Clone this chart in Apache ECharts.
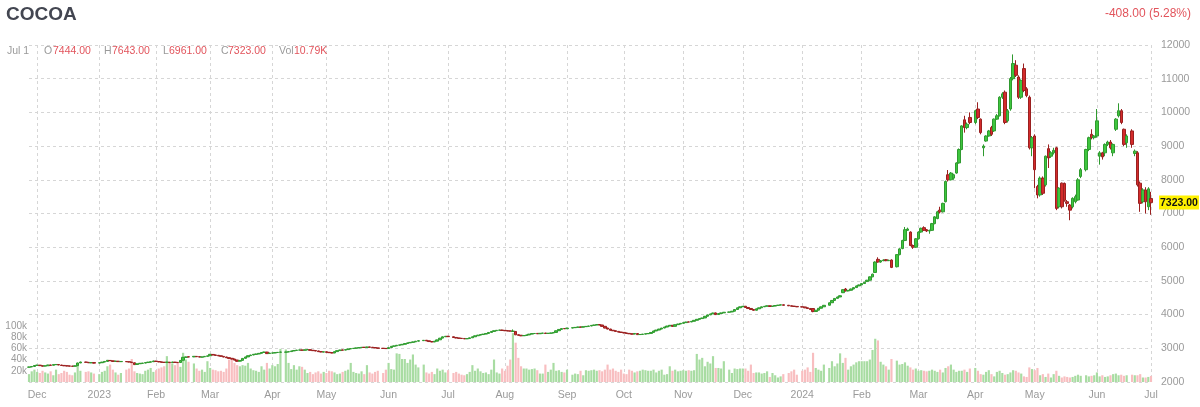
<!DOCTYPE html>
<html><head><meta charset="utf-8">
<script src="https://cdn.jsdelivr.net/npm/echarts@6/dist/echarts.min.js"></script>
<style>html,body{margin:0;padding:0;background:#fff}#c{width:1200px;height:407px}</style>
</head><body><div id="c"></div>
<script>
// Trading-day calendar (weekdays); holidays carry null values in the data arrays
const startDate = '2022-11-28';
const endDate = '2024-07-01';
const monthNames = ['Jan','Feb','Mar','Apr','May','Jun','Jul','Aug','Sep','Oct','Nov','Dec'];
const title = 'COCOA';
const lastDateLabel = 'Jul 1';

const openP = [
2440,2448,2462,2492,2500, 2483,2472,2482,2503,2497, 2514,2518,2503,2492,2482, 2477,2472,2467,2485,2566,
null,2592,2583,2568,2577, null,2562,2572,2592,2612, 2640,2628,2612,2618,2603, null,2608,2602,2590,2570,
2520,2542,2553,2562,2577, 2588,2602,2620,2608,2597, 2587,2582,2588,2577,2590, 2582,2578,2645,2730,2748,
null,2745,2760,2752,2738, 2748,2762,2777,2818,2803, 2792,2777,2760,2742,2722, 2702,2682,2652,2618,2642,
2702,2745,2782,2802,2820, 2832,2852,2877,2888,2845, 2858,2862,2874,2882,null, 2885,2892,2902,2922,2937,
2947,2952,2942,2957,2960, 2942,2932,2922,2902,2888, 2897,2882,2872,2862,2902, 2932,2952,2947,2962,2982,
2993,3002,3012,3022,3032, 3027,3040,3032,3022,3012, null,3002,2997,2993,3022, 3061,3072,3092,3102,3120,
3142,3162,3177,3192,3212, null,3227,3239,3222,3202, 3189,3212,3252,3302,3342, 3358,null,3343,3322,3307,
3297,3292,3282,3290,3312, 3342,3372,3392,3408,3422, 3442,3472,3502,3522,3536, 3542,3532,3522,3517,3498,
3500,3402,3388,3372,3382, 3397,3422,3438,3442,3432, 3447,3452,3442,3447,3456, 3472,3522,3562,3586,3582,
null,3602,3612,3622,3634, 3627,3642,3652,3662,3682, 3692,3705,3692,3652,3602, 3572,3536,3522,3502,3482,
3472,3456,3442,3432,3422, 3438,3408,3412,3422,3432, 3442,3472,3515,3542,3572, 3602,3632,3662,3684,3652,
3702,3722,3742,3762,3782, 3782,3802,3832,3862,3882, 3901,3952,3992,4022,4049, 4002,4032,4052,null,4072,
4079,4102,4152,4202,4232, 4248,4212,4182,4152,4129, 4172,4202,4232,4248,4262, 4242,4252,4272,4282,4292,
null,4278,4262,4252,4242, null,4232,4227,4202,4182, 4180,4092,4132,4189,4232, null,4278,4352,4422,4482,
4524,4650,4760,4702,4722, 4762,4802,4852,4882,4922, 4980,5020,5120,5250,5640, 5560,5600,5630,5600,5620,
null,5420,5780,5960,6200, 6500,6450,6050,6000,6250, 6450,6580,6520,6480,6500, 6700,6850,7100,7050,7350,
8150,8000,8050,8200,8500, 8900,9780,9550,9850,null, 9700,10100,9800,8950,9150, 9300,9550,9450,9800,9900,
10450,10600,9750,10100,11000, 11400,11050,10450,11300,10700, 10450,8950,9300,7800,7550, 8050,7850,8925,8700,8800,
8950,7200,7900,7890,7350, 7250,7200,7350,7400,8100, null,8300,8900,9350,9250, 9300,8700,8800,8800,9050,
9120,8800,9500,9900,10050, 9500,9100,null,9450,8780, 8800,7900,7350,7700,7200,
7444];

const closeP = [
2445,2460,2490,2500,2485, 2470,2480,2505,2495,2516, 2520,2505,2490,2480,2475, 2470,2465,2480,2564,2593,
null,2585,2570,2575,2560, null,2570,2590,2610,2644, 2630,2610,2620,2605,2610, null,2600,2593,2575,2516,
2540,2555,2560,2575,2590, 2600,2623,2610,2595,2585, 2580,2590,2575,2593,2580, 2575,2640,2733,2745,2742,
null,2762,2750,2740,2745, 2760,2775,2822,2800,2790, 2775,2762,2740,2720,2700, 2680,2650,2614,2640,2700,
2742,2780,2800,2822,2830, 2850,2875,2890,2842,2860, 2860,2872,2880,2890,null, 2890,2900,2920,2935,2945,
2950,2940,2955,2961,2940, 2930,2920,2900,2890,2895, 2880,2870,2860,2900,2930, 2950,2945,2960,2980,2991,
3000,3010,3020,3030,3025, 3038,3030,3020,3010,3000, null,2995,2991,3020,3059, 3070,3090,3100,3118,3140,
3160,3175,3190,3210,3225, null,3237,3220,3200,3187, 3210,3250,3300,3340,3356, 3345,null,3320,3305,3295,
3290,3280,3288,3310,3340, 3370,3390,3406,3420,3440, 3470,3500,3520,3534,3540, 3530,3520,3515,3510,3512,
3400,3386,3370,3380,3395, 3420,3436,3440,3430,3445, 3450,3440,3445,3454,3470, 3520,3560,3584,3580,3600,
null,3610,3620,3632,3625, 3640,3650,3660,3680,3690, 3703,3690,3650,3600,3570, 3534,3520,3500,3480,3470,
3454,3440,3430,3420,3440, 3406,3410,3420,3430,3440, 3470,3513,3540,3570,3600, 3630,3660,3682,3650,3700,
3720,3740,3760,3780,3780, 3800,3830,3860,3880,3899, 3950,3990,4020,4047,4000, 4030,4050,4070,null,4077,
4100,4150,4200,4230,4246, 4210,4180,4150,4127,4170, 4200,4230,4246,4260,4240, 4250,4270,4280,4290,4276,
null,4260,4250,4240,4230, null,4225,4200,4180,4150, 4090,4130,4187,4230,4276, null,4350,4420,4480,4522,
4560,4740,4700,4720,4760, 4800,4850,4880,4920,4960, 5020,5120,5200,5560,5560, 5600,5620,5600,5610,5400,
null,5780,5950,6200,6520, 6540,6050,6000,6250,6450, 6560,6500,6480,6500,6700, 6900,7050,7050,7300,7950,
8000,8200,8150,8500,8900, 9600,9550,9650,9700,null, 10050,9850,9400,9000,9300, 9450,9350,9800,9900,10450,
10550,9700,10050,11000,11450, 11100,10450,10950,10650,10500, 8950,9250,8300,7550,8050, 7600,8700,8650,8800,8875,
7150,7750,7200,7390,7300, 7100,7450,7500,8000,8300, null,8900,9250,9250,9300, 9750,8800,8680,9050,9120,
8950,9050,9800,10050,9700, 9050,9300,null,9050,8850, 7850,7300,7700,7350,7731,
7323];

const highP = [
2452,2465,2495,2510,2505, 2490,2486,2510,2512,2522, 2528,2525,2510,2498,2488, 2484,2478,2488,2572,2602,
null,2600,2590,2582,2584, null,2578,2596,2617,2652, 2650,2634,2626,2624,2616, null,2614,2608,2596,2575,
2546,2560,2566,2580,2596, 2606,2630,2626,2614,2602, 2593,2596,2594,2600,2596, 2588,2646,2740,2754,2756,
null,2770,2766,2758,2752, 2766,2782,2830,2826,2810, 2798,2783,2766,2748,2728, 2708,2688,2658,2646,2706,
2750,2786,2806,2828,2838, 2856,2880,2898,2894,2866, 2866,2878,2886,2896,null, 2896,2906,2926,2940,2952,
2956,2958,2960,2968,2966, 2948,2938,2928,2908,2901, 2903,2888,2878,2906,2936, 2956,2958,2966,2986,2998,
3006,3016,3026,3036,3038, 3044,3046,3038,3028,3018, null,3008,3003,3026,3066, 3078,3096,3108,3126,3148,
3168,3182,3198,3218,3234, null,3246,3246,3228,3208, 3218,3258,3308,3348,3366, 3366,null,3350,3328,3313,
3303,3298,3294,3316,3348, 3378,3398,3414,3428,3448, 3478,3508,3528,3542,3550, 3550,3540,3530,3524,3560,
3506,3410,3394,3386,3402, 3426,3442,3446,3448,3452, 3456,3458,3450,3460,3476, 3526,3566,3592,3594,3608,
null,3616,3626,3638,3640, 3646,3656,3666,3686,3698, 3712,3714,3698,3658,3608, 3578,3542,3528,3508,3488,
3478,3462,3448,3438,3446, 3444,3416,3426,3436,3446, 3476,3520,3546,3576,3606, 3636,3666,3690,3690,3706,
3726,3746,3766,3786,3790, 3806,3836,3866,3888,3906, 3958,3996,4028,4056,4062, 4036,4058,4076,null,4084,
4106,4156,4208,4238,4256, 4256,4218,4188,4158,4176, 4206,4236,4254,4268,4268, 4258,4276,4286,4298,4298,
null,4284,4268,4258,4248, null,4240,4232,4208,4188, 4186,4136,4194,4238,4284, null,4358,4428,4488,4532,
4570,4750,4790,4730,4770, 4810,4862,4890,4930,4970, 5030,5130,5215,5580,5700, 5620,5640,5650,5630,5640,
null,5790,5970,6220,6600, 6580,6470,6080,6270,6470, 6580,6620,6540,6520,6720, 6920,7080,7200,7320,7980,
8290,8230,8180,8520,8930, 9620,9900,9700,10000,null, 10080,10300,9820,9050,9320, 9480,9600,9820,9950,10480,
10600,10650,10100,11050,11720, 11550,11100,10980,11450,10750, 10500,9300,9350,7850,8100, 8100,8720,9050,8850,8950,
8980,7780,7920,7920,7400, 7280,7480,7560,8050,8350, null,8920,9280,9500,9330, 10100,8850,8830,9080,9160,
9180,9080,9830,10270,10100, 9520,9350,null,9500,8900, 8850,7950,7750,7780,7780,
7643];

const lowP = [
2432,2440,2455,2484,2478, 2462,2465,2476,2488,2490, 2506,2498,2484,2472,2468, 2463,2458,2460,2480,2560,
null,2578,2563,2561,2552, null,2555,2566,2586,2606, 2624,2604,2606,2598,2597, null,2594,2586,2568,2508,
2512,2536,2547,2556,2570, 2582,2596,2604,2589,2578, 2573,2576,2569,2571,2574, 2568,2572,2640,2722,2735,
null,2738,2744,2733,2731, 2742,2756,2770,2794,2783, 2768,2755,2733,2713,2692, 2672,2642,2604,2610,2636,
2696,2738,2776,2796,2814, 2826,2846,2870,2835,2838, 2851,2856,2868,2876,null, 2879,2886,2896,2916,2931,
2941,2934,2936,2950,2934, 2924,2914,2894,2883,2882, 2874,2864,2853,2856,2896, 2926,2939,2941,2956,2976,
2987,2996,3006,3016,3019, 3021,3024,3014,3004,2994, null,2988,2984,2987,3016, 3054,3066,3086,3096,3114,
3136,3156,3171,3186,3206, null,3220,3214,3194,3180, 3183,3206,3246,3296,3336, 3338,null,3313,3298,3288,
3283,3273,3275,3284,3306, 3336,3366,3386,3402,3416, 3436,3466,3496,3516,3530, 3524,3514,3508,3503,3490,
3392,3378,3362,3366,3376, 3391,3416,3432,3424,3426, 3441,3434,3436,3441,3450, 3466,3516,3556,3574,3576,
null,3596,3606,3616,3619, 3621,3636,3646,3656,3676, 3686,3684,3644,3594,3562, 3526,3513,3493,3473,3463,
3447,3433,3423,3413,3416, 3398,3402,3406,3416,3426, 3436,3466,3509,3536,3566, 3596,3626,3656,3644,3646,
3696,3716,3736,3756,3774, 3776,3796,3826,3856,3876, 3895,3946,3986,4016,3990, 3996,4026,4046,null,4066,
4073,4096,4146,4196,4226, 4204,4174,4144,4118,4122, 4166,4196,4226,4242,4234, 4236,4246,4266,4276,4270,
null,4254,4244,4234,4224, null,4218,4194,4174,4144, 4070,4086,4126,4183,4226, null,4272,4346,4416,4476,
4515,4640,4690,4690,4712, 4750,4795,4845,4875,4915, 4970,5010,5110,5240,5540, 5540,5585,5585,5590,5380,
null,5400,5760,5940,6180, 6480,6030,5950,5980,6230, 6430,6480,6450,6400,6480, 6680,6830,7000,7030,7330,
7950,7980,8000,8180,8480, 8880,9400,9500,9650,null, 9650,9800,9350,8700,9130, 9280,9300,9420,9780,9880,
10400,9650,9700,10050,10950, 11050,10400,10400,10600,10450, 8900,8700,7750,7450,7500, 7550,7800,8350,8650,8750,
7100,7150,7150,7350,7200, 6800,7150,7300,7380,8050, null,8250,8850,9200,9200, 9250,8450,8600,8700,9000,
8900,8700,9450,9850,9650, 9000,8950,null,8950,8700, 7800,7050,7300,7000,7100,
6961];

// volume in thousands of contracts
const volK = [
14,19,22,18,16, 20,17,15,19,12, 22,14,16,20,18, 13,12,17,34,20,
null,18,19,17,15, null,14,18,20,28, 31,22,17,13,16, null,22,24,41,19,
16,15,14,20,22, 25,18,21,24,26, 28,46,34,33,30, 34,27,52,40,36,
null,33,24,20,22, 18,37,25,22,21, 19,20,18,24,40, 43,34,30,28,30,
29,34,24,21,20, 18,28,22,34,24, 30,28,32,59,null, 58,34,23,30,22,
28,27,22,16,18, 14,17,19,15,18, 16,20,19,17,14, 15,18,20,22,34,
18,16,15,19,14, 30,17,15,18,20, null,16,22,34,23, 22,51,50,41,41,
34,40,49,31,26, null,31,17,15,18, 14,24,20,22,17, 21,null,16,18,15,
13,12,14,18,30, 20,24,19,16,17, 14,22,40,17,15, 24,20,29,40,87,
70,43,28,24,24, 22,23,24,21,15, 15,31,18,22,34, 20,21,18,17,22,
null,13,15,14,20, 12,21,20,21,22, 20,21,19,22,31, 22,24,20,18,22,
15,14,22,20,17, 19,20,22,21,20, 20,22,17,20,22, 13,14,28,20,22,
19,20,21,20,21, 20,21,50,40,43, 28,36,33,46,25, 25,24,37,null,22,
16,24,23,24,24, 24,20,31,16,17, 17,15,16,19,9, 16,12,8,10,14,
null,16,19,22,13, null,20,22,26,18, 52,25,22,20,31, null,25,37,28,33,
51,34,43,22,28, 31,35,37,37,37, 37,40,57,77,74, 36,31,28,22,41,
null,38,31,32,35, 29,26,22,24,20, 21,20,19,20,22, 20,18,22,17,25,
28,31,22,18,20, 20,22,18,24,null, 25,20,14,13,18, 21,14,10,18,20,
16,13,14,17,21, 20,17,15,10,9, 26,23,21,25,12, 14,9,15,8,14,
20,11,8,10,9, 8,9,11,13,11, null,12,10,11,12, 17,10,12,9,10,
12,14,15,12,13, 11,12,null,13,12, 12,14,8,8,9,
10.79];

// ---- build categories (weekdays) ----
const dates = [];
for (let d = new Date(startDate + 'T00:00:00Z'); d <= new Date(endDate + 'T00:00:00Z'); d.setUTCDate(d.getUTCDate() + 1)) {
  const wd = d.getUTCDay();
  if (wd === 0 || wd === 6) continue;
  dates.push(d.toISOString().slice(0, 10));
}

const monthStarts = new Set();
let lastM = dates[0].slice(0, 7);
for (let i = 1; i < dates.length; i++) {
  const m = dates[i].slice(0, 7);
  if (m !== lastM && closeP[i] != null) { monthStarts.add(i); lastM = m; }
}

const candle = dates.map((d, i) => closeP[i] == null ? ['-', '-', '-', '-'] : [openP[i], closeP[i], lowP[i], highP[i]]);
const vols = dates.map((d, i) => volK[i] == null ? '-' : {
  value: volK[i] * 1000,
  itemStyle: { color: closeP[i] >= openP[i] ? '#a8dca2' : '#f8bec0' }
});

const n = dates.length - 1;
const lastClose = closeP[n], prevClose = closeP[n - 1];
const chg = lastClose - prevClose;
const FONT = '"Liberation Sans", Arial, sans-serif';
const GRAY = '#9a9a9a', RED = '#e2545c';

const info = [
  [lastDateLabel, 7, GRAY], ['O', 44, GRAY], [openP[n].toFixed(2), 53, RED],
  ['H', 104, GRAY], [highP[n].toFixed(2), 112, RED],
  ['L', 163, GRAY], [lowP[n].toFixed(2), 169, RED],
  ['C', 221, GRAY], [closeP[n].toFixed(2), 228, RED],
  ['Vol', 279, GRAY], [volK[n].toFixed(2) + 'K', 294, RED]
];

const chart = echarts.init(document.getElementById('c'), null, { renderer: 'canvas' });
chart.setOption({
  animation: false,
  textStyle: { fontFamily: FONT },
  grid: { left: 29, right: 49, top: 45, bottom: 25, containLabel: false },
  graphic: [
    { type: 'text', left: 6, top: 5, style: { text: title, font: 'bold 19px ' + FONT, fill: '#434651' } },
    { type: 'text', right: 9, top: 8, style: { text: (chg < 0 ? '-' : '+') + Math.abs(chg).toFixed(2) + ' (' + (Math.abs(chg) / prevClose * 100).toFixed(2) + '%)', font: '12px ' + FONT, fill: RED } },
    ...info.map(([t, x, c]) => ({ type: 'text', left: x, top: 46, z: 10, style: { text: t, font: '10.5px ' + FONT, fill: c } }))
  ],
  xAxis: {
    type: 'category', data: dates, boundaryGap: false,
    axisLine: { show: false }, axisTick: { show: false },
    axisLabel: {
      interval: (i) => monthStarts.has(i), color: GRAY, fontSize: 10.5, margin: 8,
      formatter: (v) => { const m = +v.slice(5, 7); return m === 1 ? v.slice(0, 4) : monthNames[m - 1]; }
    },
    splitLine: { show: true, interval: (i) => monthStarts.has(i), lineStyle: { type: [3, 3], color: '#d6d6d6', width: 1 } }
  },
  yAxis: [
    {
      type: 'value', position: 'right', min: 2000, max: 12000, interval: 1000,
      axisLine: { show: false }, axisTick: { show: false },
      axisLabel: { color: GRAY, fontSize: 10.5, margin: 10, formatter: (v) => String(v) },
      splitLine: { show: true, lineStyle: { type: [3, 3], color: '#d6d6d6', width: 1 } }
    },
    {
      type: 'value', position: 'left', min: 0, max: 600000, interval: 20000,
      axisLine: { show: false }, axisTick: { show: false }, splitLine: { show: false },
      axisLabel: { color: GRAY, fontSize: 10, margin: 2, formatter: (v) => (v > 0 && v <= 100000) ? (v / 1000) + 'k' : '' }
    }
  ],
  series: [
    { type: 'bar', yAxisIndex: 1, data: vols, barWidth: '80%', clip: false, z: 1 },
    {
      type: 'candlestick', data: candle, barWidth: 3, clip: false, z: 3,
      itemStyle: { color: '#3ec63e', color0: '#d42b2b', borderColor: '#2f9a2f', borderColor0: '#9a2020', borderWidth: 1 },
      markLine: {
        symbol: 'none', silent: true, animation: false,
        lineStyle: { color: 'rgba(0,0,0,0)', width: 1 },
        data: [{ yAxis: lastClose }],
        label: { show: true, position: 'end', distance: 8, formatter: lastClose.toFixed(2), backgroundColor: '#fff200', color: '#111', fontWeight: 'bold', fontSize: 10.5, padding: [2, 1, 1, 1] }
      }
    }
  ]
});
</script></body></html>
